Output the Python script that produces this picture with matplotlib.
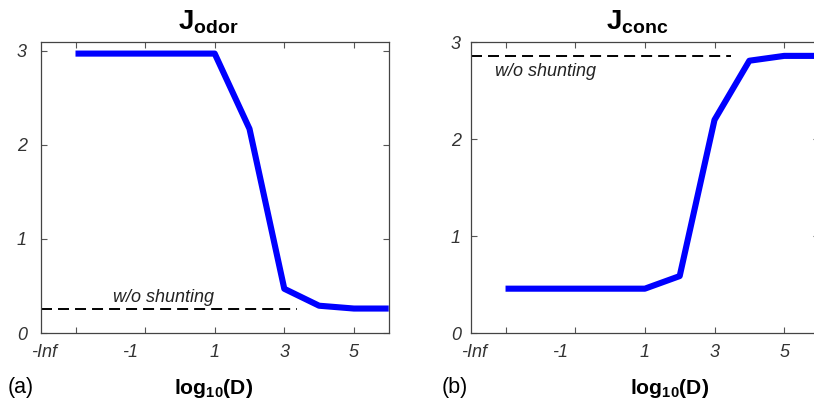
import matplotlib
matplotlib.use("Agg")
import matplotlib.pyplot as plt
from matplotlib.transforms import ScaledTranslation

plt.rcParams['font.family'] = ['Liberation Sans', 'DejaVu Sans']
plt.rcParams['mathtext.fontset'] = 'custom'
plt.rcParams['mathtext.rm'] = 'Liberation Sans'
plt.rcParams['mathtext.bf'] = 'Liberation Sans:bold'
plt.rcParams['mathtext.it'] = 'Liberation Sans:italic'

# Data: x position -3 stands for log10(D) = -Inf
x_pos = [-3, -2, -1, 0, 1, 2, 3, 4, 5, 6]
j_odor = [2.97, 2.97, 2.97, 2.97, 2.97, 2.17, 0.47, 0.29, 0.26, 0.26]
j_conc = [0.46, 0.46, 0.46, 0.46, 0.46, 0.59, 2.20, 2.81, 2.86, 2.86]
odor_no_shunt = 0.255
conc_no_shunt = 2.86
xtick_pos = [-3, -1, 1, 3, 5]
xtick_labels = ['-Inf', '-1', '1', '3', '5']
ytick_pos = [0, 1, 2, 3]
ytick_labels = ['0', '1', '2', '3']

W, H = 814, 404
fig = plt.figure(figsize=(W / 100, H / 100), dpi=100)

def fx(px):
    return px / W

def fy(py):
    return 1 - py / H

ax1 = fig.add_axes([fx(40.7), fy(333), fx(388.7 - 40.7), (333 - 42.3) / H])
ax2 = fig.add_axes([fx(470.7), fy(333.3), fx(819 - 470.7), (333.3 - 42.3) / H])

# horizontal label shifts (inches) seen in the original for the first two labels
label_shift = [-0.31, -0.15, 0, 0, 0]

def style(ax, ylim, ypad):
    ax.set_xlim(-4, 6)
    ax.set_ylim(*ylim)
    ax.set_xticks(xtick_pos)
    ax.set_xticklabels(xtick_labels)
    ax.set_yticks(ytick_pos)
    ax.set_yticklabels(ytick_labels)
    ax.tick_params(direction='in', length=4, width=0.8, top=True, right=True,
                   labelsize=13, colors='#555555', labelcolor='#333333')
    ax.tick_params(axis='x', pad=8)
    ax.tick_params(axis='y', pad=ypad)
    for lab in ax.get_xticklabels() + ax.get_yticklabels():
        lab.set_fontstyle('italic')
    for lab, dx in zip(ax.get_xticklabels(), label_shift):
        if dx:
            lab.set_transform(lab.get_transform() +
                              ScaledTranslation(dx, 0, fig.dpi_scale_trans))
    for s in ax.spines.values():
        s.set_color('#444444')
        s.set_linewidth(0.9)

style(ax1, (0, 3.09), 10)
style(ax2, (0, 3.0), 7)

ax1.plot([-4, 3.37], [odor_no_shunt, odor_no_shunt], color='black', lw=1.4,
         dashes=(5.65, 3.1), dash_capstyle='butt')
ax1.plot(x_pos, j_odor, color='#0000ff', lw=4.4, solid_capstyle='butt',
         clip_on=False, zorder=3)
ax1.text(-1.92, 0.33, 'w/o shunting', fontsize=13, fontstyle='italic',
         color='#222222', ha='left', va='baseline')

ax2.plot([-4, 3.46], [conc_no_shunt, conc_no_shunt], color='black', lw=1.4,
         dashes=(5.65, 3.1), dash_capstyle='butt')
ax2.plot(x_pos, j_conc, color='#0000ff', lw=4.4, solid_capstyle='butt',
         zorder=3)
ax2.text(-3.29, 2.65, 'w/o shunting', fontsize=13, fontstyle='italic',
         color='#222222', ha='left', va='baseline')

# Titles
fig.text(fx(208), fy(30), r'$\mathbf{J}_{\mathbf{odor}}$', fontsize=20,
         ha='center', va='baseline')
fig.text(fx(637), fy(30), r'$\mathbf{J}_{\mathbf{conc}}$', fontsize=20,
         ha='center', va='baseline')

# x labels
fig.text(fx(213.7), fy(388), r'$\mathbf{log_{10}(D)}$', fontsize=15.2,
         ha='center', va='center')
fig.text(fx(670), fy(388), r'$\mathbf{log_{10}(D)}$', fontsize=15.2,
         ha='center', va='center')

# Panel labels
fig.text(fx(8), fy(388), '(a)', fontsize=15.5, ha='left', va='center')
fig.text(fx(442), fy(388), '(b)', fontsize=15.5, ha='left', va='center')

fig.savefig('out.png', dpi=100)
